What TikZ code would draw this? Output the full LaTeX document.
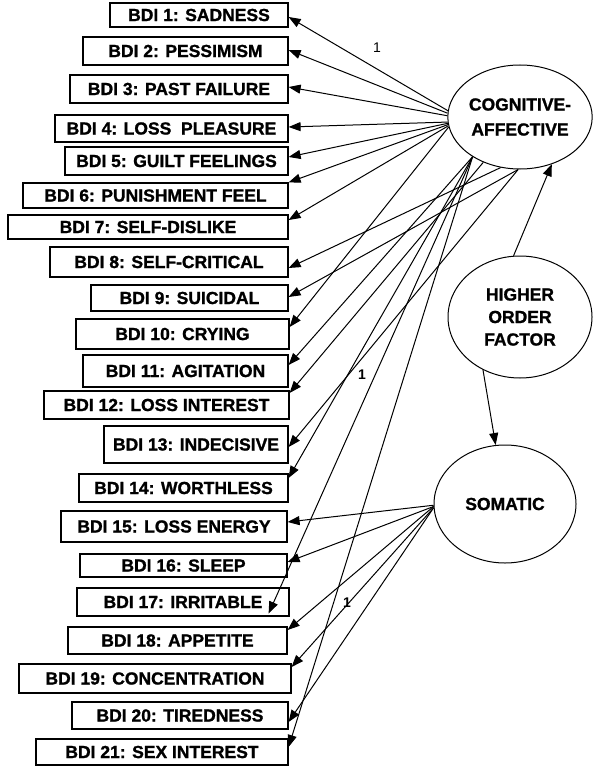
\documentclass[tikz,border=0pt]{standalone}
\usepackage{fontspec}
\setmainfont{Liberation Sans}
\newfontfamily\lab{Liberation Sans Bold}[FakeBold=1.2]
\usetikzlibrary{arrows.meta,shapes.geometric}
\begin{document}
\begin{tikzpicture}[x=1pt,y=-1pt,
  box/.style={draw, line width=1.2pt, inner sep=0pt, font=\lab\fontsize{17.5}{20}\selectfont},
  fac/.style={draw, ellipse, line width=1pt, inner sep=0pt, align=center},
  conn/.style={line width=1pt, -{Triangle[length=12pt,width=9pt]}},
  lbl/.style={inner sep=0pt, font=\fontsize{14}{14}\selectfont}]
\useasboundingbox (0,0) rectangle (600,773);

% factors
\node[fac, minimum width=144pt, minimum height=104pt, font=\lab\fontsize{17.5}{25}\selectfont] (cog) at (520,117) {COGNITIVE-\\AFFECTIVE};
\node[fac, minimum width=144pt, minimum height=122pt, font=\lab\fontsize{17.5}{22.5}\selectfont] (hof) at (520,317) {HIGHER\\ORDER\\FACTOR};
\node[fac, minimum width=142pt, minimum height=118pt, font=\lab\fontsize{17.5}{20}\selectfont] (som) at (505,504) {SOMATIC};

% items
\node[box, minimum width=178pt, minimum height=24pt] (b1) at (199,15) {BDI 1: SADNESS};
\node[box, minimum width=205pt, minimum height=28pt] (b2) at (185.5,51) {BDI 2: PESSIMISM};
\node[box, minimum width=218pt, minimum height=28pt] (b3) at (179,89) {BDI 3: PAST FAILURE};
\node[box, minimum width=233pt, minimum height=27pt] (b4) at (171.5,128.5) {BDI 4: LOSS\ \ PLEASURE};
\node[box, minimum width=223pt, minimum height=28pt] (b5) at (176.5,161) {BDI 5: GUILT FEELINGS};
\node[box, minimum width=265pt, minimum height=25pt] (b6) at (155.5,195.5) {BDI 6: PUNISHMENT FEEL};
\node[box, minimum width=280pt, minimum height=24pt] (b7) at (148,227) {BDI 7: SELF-DISLIKE};
\node[box, minimum width=238pt, minimum height=30pt] (b8) at (169,262) {BDI 8: SELF-CRITICAL};
\node[box, minimum width=197pt, minimum height=26pt] (b9) at (189.5,298) {BDI 9: SUICIDAL};
\node[box, minimum width=213pt, minimum height=30pt] (b10) at (182.5,334) {BDI 10: CRYING};
\node[box, minimum width=205pt, minimum height=32pt] (b11) at (185.5,371) {BDI 11: AGITATION};
\node[box, minimum width=245pt, minimum height=28pt] (b12) at (166.5,405) {BDI 12: LOSS INTEREST};
\node[box, minimum width=184pt, minimum height=37pt] (b13) at (196,444.5) {BDI 13: INDECISIVE};
\node[box, minimum width=209pt, minimum height=28pt] (b14) at (183.5,488) {BDI 14: WORTHLESS};
\node[box, minimum width=226pt, minimum height=31pt] (b15) at (174,526.5) {BDI 15: LOSS ENERGY};
\node[box, minimum width=207pt, minimum height=23pt] (b16) at (183.5,565.5) {BDI 16: SLEEP};
\node[box, minimum width=212pt, minimum height=28pt] (b17) at (183,602) {BDI 17: IRRITABLE};
\node[box, minimum width=219pt, minimum height=27pt] (b18) at (177.5,640.5) {BDI 18: APPETITE};
\node[box, minimum width=272pt, minimum height=29pt] (b19) at (155,678.5) {BDI 19: CONCENTRATION};
\node[box, minimum width=216pt, minimum height=27pt] (b20) at (180,715.5) {BDI 20: TIREDNESS};
\node[box, minimum width=252pt, minimum height=26pt] (b21) at (162,752) {BDI 21: SEX INTEREST};

% cognitive-affective loadings
\draw[conn] (cog.175) -- ([yshift=-2pt]b1.east);
\draw[conn] (cog.177) -- ([yshift=1pt]b2.east);
\draw[conn] (cog.179) -- ([yshift=2pt]b3.east);
\draw[conn] (cog.184) -- ([yshift=1.5pt]b4.east);
\draw[conn] (cog.185) -- ([yshift=4pt]b5.east);
\draw[conn] (cog.186) -- (b6.north east);
\draw[conn] (cog.187) -- ([yshift=7pt]b7.east);
\draw[conn] (cog.249) -- ([yshift=-6pt]b8.east);
\draw[conn] (cog.268) -- ([yshift=1pt]b9.east);
\draw[conn] (cog.188) -- ([yshift=7pt]b10.east);
\draw[conn] (cog.220) -- ([yshift=6pt]b11.east);
\draw[conn] (cog.231) -- ([yshift=12pt]b12.east);
\draw[conn] (cog.268) -- ([yshift=-2.5pt]b13.east);
\draw[conn] (cog.220) -- ([yshift=10pt]b14.east);
\draw[conn] (cog.220) -- ([xshift=-21pt,yshift=3pt]b17.south east);
\draw[conn] (cog.220) -- ([yshift=5pt]b21.east);

% somatic loadings
\draw[conn] (som.181) -- ([yshift=4.5pt]b15.east);
\draw[conn] (som.182) -- ([yshift=3.5pt]b16.east);
\draw[conn] (som.182) -- ([yshift=10.5pt]b18.east);
\draw[conn] (som.183) -- ([yshift=11.5pt]b19.east);
\draw[conn] (som.183) -- ([yshift=-6.5pt]b20.east);

% higher order
\draw[conn] (hof.96) -- (cog.304);
\draw[conn] (hof.235) -- (som.99);

% labels
\node[lbl] (l1) at (377,48) {1};
\node[lbl, font=\bfseries\fontsize{14}{14}\selectfont] (l2) at (362,375) {1};
\node[lbl, font=\bfseries\fontsize{14}{14}\selectfont] (l3) at (347,603) {1};
\end{tikzpicture}
\end{document}
